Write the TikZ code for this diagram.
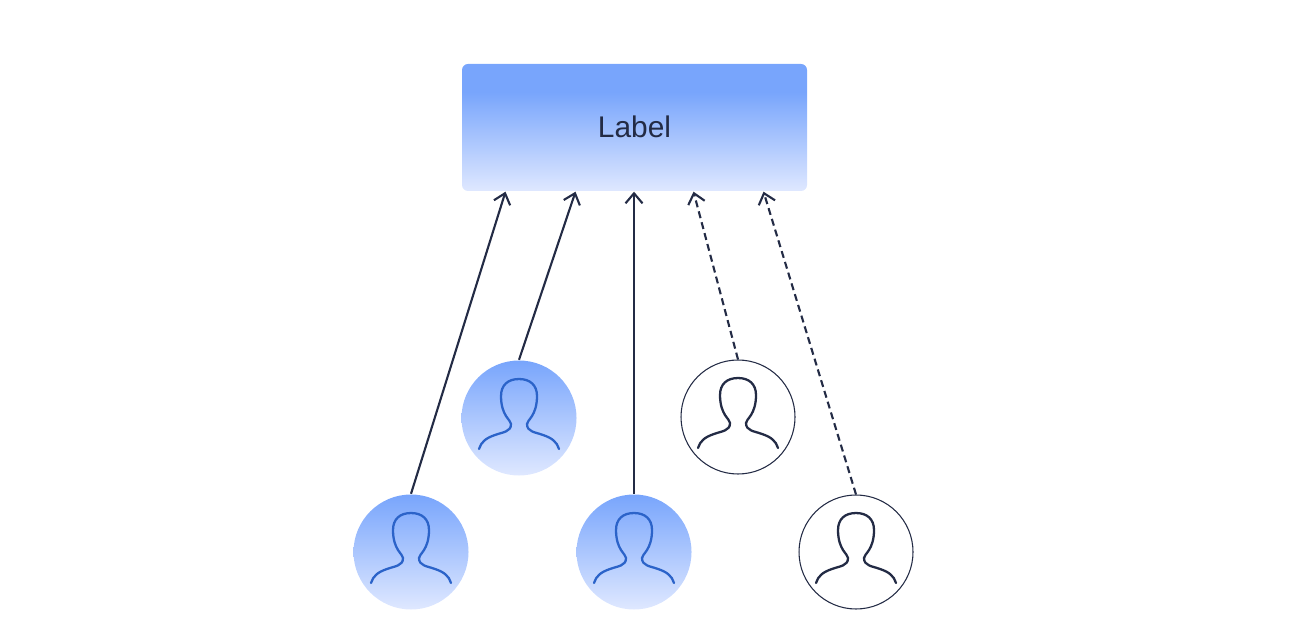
\documentclass[tikz,border=0pt]{standalone}
\usepackage{fontspec}
\setmainfont{Liberation Sans}
\usetikzlibrary{arrows.meta}
\definecolor{inkdark}{HTML}{232B45}
\definecolor{inkblue}{HTML}{2B63C9}
\definecolor{fadetop}{HTML}{78A5FC}
\definecolor{fadebot}{HTML}{DFE8FF}
\pgfdeclareverticalshading{boxfade}{100bp}{color(0bp)=(fadebot); color(25bp)=(fadebot); color(64bp)=(fadetop); color(100bp)=(fadetop)}
\tikzset{
	labelbox/.style = {shading=boxfade, rounded corners=0.06cm, minimum width=3.45cm, minimum height=1.27cm, inner sep=0pt, text=inkdark, font=\fontsize{8.5}{10}\selectfont},
	userin/.style = {circle, minimum size=1.15cm, inner sep=0pt, top color=fadetop, bottom color=fadebot},
	userout/.style = {circle, minimum size=1.14cm, inner sep=0pt, draw=inkdark, line width=0.3pt, fill=white},
	link/.style = {inkdark, line width=0.6pt, -{Straight Barb[length=0.1cm, width=0.17cm]}},
	dashlink/.style = {link, dash pattern=on 2pt off 1.2pt},
	pics/person/.style = {code = {
		\draw[x=0.01cm, y=0.01cm, line width=0.65pt, line cap=round, #1] (-40,-31)
			.. controls (-38,-24) and (-33,-20) .. (-24,-17)
			.. controls (-16,-14) and (-8,-14) .. (-8,-6)
			.. controls (-8,-2) and (-18,2) .. (-18,22)
			.. controls (-18,33) and (-11,39) .. (0,39)
			.. controls (11,39) and (18,33) .. (18,22)
			.. controls (18,2) and (8,-2) .. (8,-6)
			.. controls (8,-14) and (16,-14) .. (24,-17)
			.. controls (33,-20) and (38,-24) .. (40,-31);
	}}
}
\begin{document}
\begin{tikzpicture}
	\useasboundingbox (0,0) rectangle (12.94,6.38);
	% Label box
	\node[labelbox] (label) at (6.345,5.105) {\raisebox{0.5pt}{Label}};
	% Users
	\node[userin] (userA) at (4.11,0.86) {};
	\node[userin] (userB) at (5.19,2.20) {};
	\node[userin] (userC) at (6.34,0.86) {};
	\node[userout] (userD) at (7.38,2.21) {};
	\node[userout] (userE) at (8.56,0.86) {};
	\pic at (userA.center) {person=inkblue};
	\pic at (userB.center) {person=inkblue};
	\pic at (userC.center) {person=inkblue};
	\pic at (userD.center) {person=inkdark};
	\pic at (userE.center) {person=inkdark};
	% Links
	\draw[link] (userA.north) -- ([xshift=-1.29cm]label.south);
	\draw[link] (userB.north) -- ([xshift=-0.59cm]label.south);
	\draw[link] (userC.north) -- ([xshift=-0.005cm]label.south);
	\draw[dashlink] (userD.north) -- ([xshift=0.59cm]label.south);
	\draw[dashlink] (userE.north) -- ([xshift=1.29cm]label.south);
\end{tikzpicture}
\end{document}
